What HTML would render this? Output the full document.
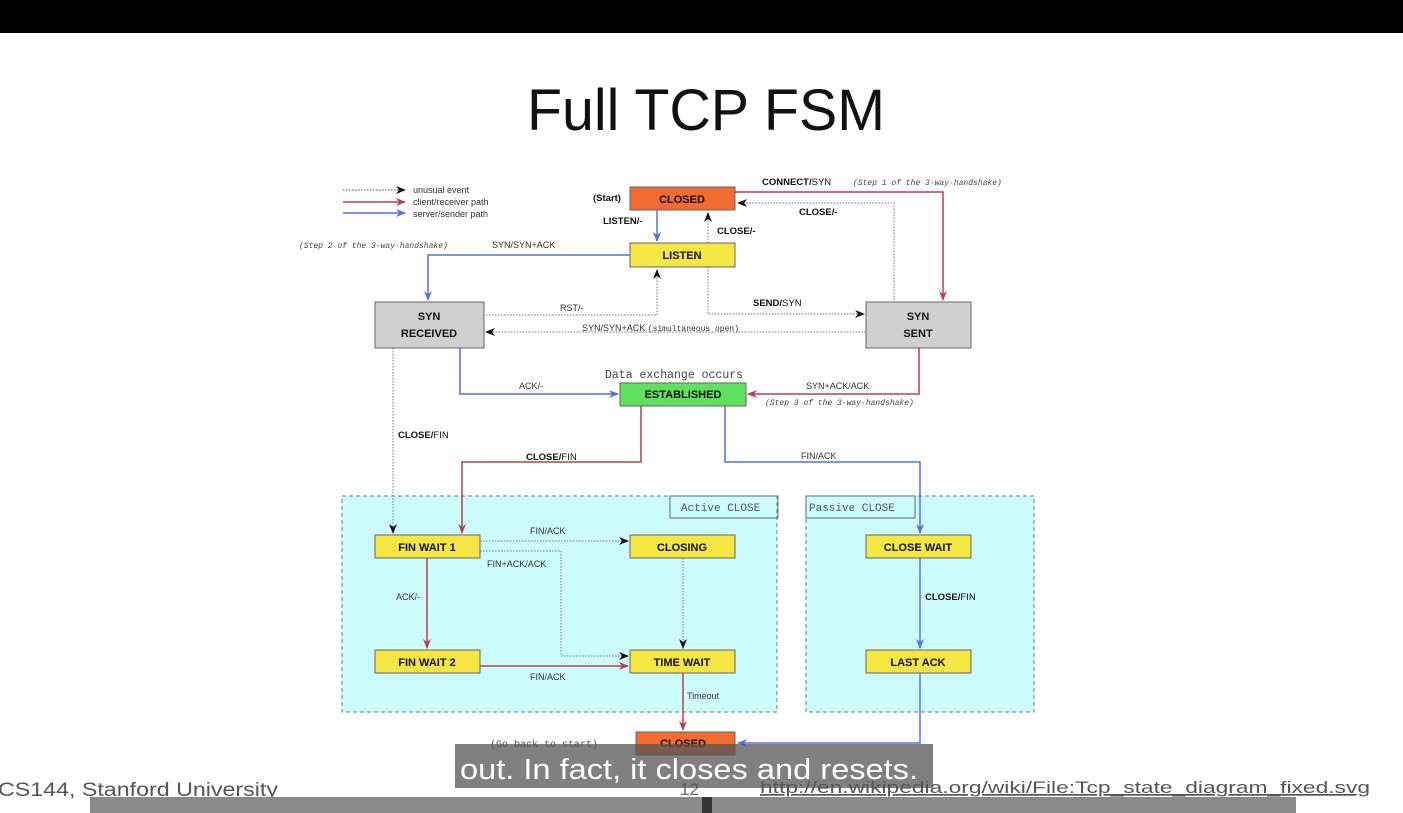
<!DOCTYPE html>
<html><head><meta charset="utf-8"><style>
html,body{margin:0;padding:0;background:#fff;}
svg{display:block}
.st{font-family:"Liberation Sans",sans-serif;font-weight:bold;font-size:11px;fill:#111;text-anchor:middle}
.lb{font-family:"Liberation Sans",sans-serif;font-size:9px;fill:#333}
.lbb{font-family:"Liberation Sans",sans-serif;font-size:9.5px;fill:#111;font-weight:bold}
.mono{font-family:"Liberation Mono",monospace;font-size:8px;fill:#444;font-style:italic}
</style></head><body>
<svg width="1403" height="813" viewBox="0 0 1403 813" xmlns="http://www.w3.org/2000/svg">
<defs>
<marker id="ak" markerWidth="10" markerHeight="10" refX="9" refY="5" orient="auto" markerUnits="userSpaceOnUse"><path d="M0,1 L10,5 L0,9 L3,5z" fill="#111"/></marker>
<marker id="ar" markerWidth="10" markerHeight="10" refX="9" refY="5" orient="auto" markerUnits="userSpaceOnUse"><path d="M0,1 L10,5 L0,9 L3,5z" fill="#b84050"/></marker>
<marker id="ab" markerWidth="10" markerHeight="10" refX="9" refY="5" orient="auto" markerUnits="userSpaceOnUse"><path d="M0,1 L10,5 L0,9 L3,5z" fill="#5570e0"/></marker>
</defs>
<rect x="0" y="0" width="1403" height="33" fill="#000"/>
<text x="527" y="130" font-family="Liberation Sans,sans-serif" font-size="58" fill="#111" textLength="358" lengthAdjust="spacingAndGlyphs">Full TCP FSM</text>

<!-- legend -->
<line x1="343" y1="190" x2="405" y2="190" stroke="#555" stroke-dasharray="1.5,1.5" marker-end="url(#ak)"/>
<line x1="343" y1="202" x2="405" y2="202" stroke="#b84050" stroke-width="1.5" marker-end="url(#ar)"/>
<line x1="343" y1="213" x2="405" y2="213" stroke="#5570e0" stroke-width="1.5" marker-end="url(#ab)"/>
<text class="lb" x="413" y="193" font-size="8">unusual event</text>
<text class="lb" x="413" y="205" font-size="8">client/receiver path</text>
<text class="lb" x="413" y="217" font-size="8">server/sender path</text>

<rect x="342" y="496" width="435" height="216" fill="#ccfcfc" stroke="#777" stroke-dasharray="4,3"/>
<rect x="806" y="496" width="228" height="216" fill="#ccfcfc" stroke="#777" stroke-dasharray="4,3"/>
<rect x="670" y="496" width="108" height="22" fill="none" stroke="#667"/>
<rect x="806" y="496" width="109" height="22" fill="none" stroke="#667"/>
<text x="681" y="511" font-family="Liberation Mono,monospace" font-size="11" fill="#555">Active CLOSE</text>
<text x="809" y="511" font-family="Liberation Mono,monospace" font-size="11" fill="#555">Passive CLOSE</text>

<g fill="none" stroke-width="1.5">
<polyline points="735,192 943,192 943,300" stroke="#b84050" marker-end="url(#ar)"/>
<polyline points="894,300 894,203 738,203" stroke="#777" stroke-width="1" stroke-dasharray="1.5,1.5" marker-end="url(#ak)"/>
<line x1="657" y1="210" x2="657" y2="241" stroke="#5570e0" marker-end="url(#ab)"/>
<line x1="708" y1="243" x2="708" y2="213" stroke="#777" stroke-width="1" stroke-dasharray="1.5,1.5" marker-end="url(#ak)"/>
<polyline points="630,255 428,255 428,300" stroke="#5570e0" marker-end="url(#ab)"/>
<polyline points="486,315 657,315 657,270" stroke="#777" stroke-width="1" stroke-dasharray="1.5,1.5" marker-end="url(#ak)"/>
<polyline points="708,267 708,314 864,314" stroke="#777" stroke-width="1" stroke-dasharray="1.5,1.5" marker-end="url(#ak)"/>
<line x1="866" y1="332" x2="486" y2="332" stroke="#777" stroke-width="1" stroke-dasharray="1.5,1.5" marker-end="url(#ak)"/>
<polyline points="460,348 460,394 618,394" stroke="#5570e0" marker-end="url(#ab)"/>
<polyline points="919,348 919,394 748,394" stroke="#b84050" marker-end="url(#ar)"/>
<polyline points="393,348 393,533" stroke="#777" stroke-width="1" stroke-dasharray="1.5,1.5" marker-end="url(#ak)"/>
<polyline points="641,406 641,462 462,462 462,533" stroke="#b84050" marker-end="url(#ar)"/>
<polyline points="725,406 725,462 920,462 920,533" stroke="#5570e0" marker-end="url(#ab)"/>
<line x1="480" y1="541" x2="628" y2="541" stroke="#777" stroke-width="1" stroke-dasharray="1.5,1.5" marker-end="url(#ak)"/>
<polyline points="480,551 561,551 561,656 628,656" stroke="#777" stroke-width="1" stroke-dasharray="1.5,1.5" marker-end="url(#ak)"/>
<line x1="683" y1="558" x2="683" y2="648" stroke="#777" stroke-width="1" stroke-dasharray="1.5,1.5" marker-end="url(#ak)"/>
<line x1="427" y1="558" x2="427" y2="648" stroke="#b84050" marker-end="url(#ar)"/>
<line x1="480" y1="666" x2="628" y2="666" stroke="#b84050" marker-end="url(#ar)"/>
<line x1="920" y1="558" x2="920" y2="648" stroke="#5570e0" marker-end="url(#ab)"/>
<line x1="683" y1="673" x2="683" y2="730" stroke="#b84050" marker-end="url(#ar)"/>
<polyline points="920,673 920,743 738,743" stroke="#5570e0" marker-end="url(#ab)"/>
</g>

<g stroke="#666" stroke-width="1">
<rect x="630" y="187" width="105" height="23" fill="#f26b30"/>
<rect x="630" y="243" width="105" height="24" fill="#f5e642"/>
<rect x="375" y="302" width="109" height="46" fill="#d0d0d0"/>
<rect x="866" y="302" width="105" height="46" fill="#d0d0d0"/>
<rect x="620" y="383" width="126" height="23" fill="#5fe05f"/>
<rect x="375" y="535" width="105" height="23" fill="#f5e642"/>
<rect x="630" y="535" width="105" height="23" fill="#f5e642"/>
<rect x="375" y="650" width="105" height="23" fill="#f5e642"/>
<rect x="630" y="650" width="105" height="23" fill="#f5e642"/>
<rect x="866" y="535" width="105" height="23" fill="#f5e642"/>
<rect x="866" y="650" width="105" height="23" fill="#f5e642"/>
<rect x="636" y="732" width="99" height="23" fill="#f26b30"/>
</g>
<text class="st" x="682" y="203">CLOSED</text>
<text class="st" x="682" y="259">LISTEN</text>
<text class="st" x="429" y="320">SYN</text>
<text class="st" x="429" y="337">RECEIVED</text>
<text class="st" x="918" y="320">SYN</text>
<text class="st" x="918" y="337">SENT</text>
<text class="st" x="683" y="398">ESTABLISHED</text>
<text class="st" x="427" y="551">FIN WAIT 1</text>
<text class="st" x="682" y="551">CLOSING</text>
<text class="st" x="427" y="666">FIN WAIT 2</text>
<text class="st" x="682" y="666">TIME WAIT</text>
<text class="st" x="918" y="551">CLOSE WAIT</text>
<text class="st" x="918" y="666">LAST ACK</text>
<text class="st" x="683" y="747">CLOSED</text>

<text class="lbb" x="593" y="201">(Start)</text>
<text class="lbb" x="603" y="224">LISTEN/-</text>
<text class="lbb" x="717" y="234">CLOSE/-</text>
<text class="lbb" x="799" y="215" font-size="8.5">CLOSE/-</text>
<text class="lbb" x="762" y="185">CONNECT/<tspan font-weight="normal">SYN</tspan></text>
<text class="mono" x="853" y="185">(Step 1 of the 3-way-handshake)</text>
<text class="mono" x="299" y="248">(Step 2 of the 3-way-handshake)</text>
<text class="lb" x="492" y="248" font-size="10">SYN/SYN+ACK</text>
<text class="lb" x="560" y="311">RST/-</text>
<text class="lbb" x="753" y="306">SEND/<tspan font-weight="normal">SYN</tspan></text>
<text class="lb" x="582" y="331">SYN/SYN+ACK <tspan font-family="Liberation Mono,monospace" font-size="8">(simultaneous open)</tspan></text>
<text x="605" y="378" font-family="Liberation Mono,monospace" font-size="11.5" fill="#444">Data exchange occurs</text>
<text class="lb" x="519" y="389" font-size="8.5">ACK/-</text>
<text class="lb" x="806" y="389" font-size="8.5">SYN+ACK/ACK</text>
<text class="mono" x="765" y="405">(Step 3 of the 3-way-handshake)</text>
<text class="lbb" x="398" y="438">CLOSE/<tspan font-weight="normal">FIN</tspan></text>
<text class="lbb" x="526" y="460">CLOSE/<tspan font-weight="normal">FIN</tspan></text>
<text class="lb" x="801" y="459" font-size="8.5">FIN/ACK</text>
<text class="lb" x="530" y="534" font-size="8">FIN/ACK</text>
<text class="lb" x="487" y="567" font-size="8">FIN+ACK/ACK</text>
<text class="lb" x="396" y="600" font-size="8">ACK/-</text>
<text class="lb" x="530" y="680" font-size="8">FIN/ACK</text>
<text class="lb" x="687" y="699" font-size="8.5">Timeout</text>
<text class="lbb" x="925" y="600">CLOSE/<tspan font-weight="normal">FIN</tspan></text>
<text x="490" y="747" font-family="Liberation Mono,monospace" font-size="10" fill="#555">(Go back to start)</text>

<text x="-2" y="796" font-family="Liberation Sans,sans-serif" font-size="19" fill="#555" textLength="280" lengthAdjust="spacingAndGlyphs">CS144, Stanford University</text>
<text x="680" y="795" font-family="Liberation Sans,sans-serif" font-size="17" fill="#666">12</text>
<text x="760" y="793" font-family="Liberation Sans,sans-serif" font-size="17" fill="#555" text-decoration="underline" textLength="610" lengthAdjust="spacingAndGlyphs">http://en.wikipedia.org/wiki/File:Tcp_state_diagram_fixed.svg</text>
<rect x="455" y="744" width="478" height="44" fill="#555" opacity="0.75"/>
<text x="460" y="779" font-family="Liberation Sans,sans-serif" font-size="29" fill="#fff" textLength="458" lengthAdjust="spacingAndGlyphs">out. In fact, it closes and resets.</text>
<rect x="90" y="797" width="612" height="16" fill="#8a8a8a"/>
<rect x="702" y="797" width="10" height="16" fill="#333"/>
<rect x="712" y="797" width="584" height="16" fill="#8a8a8a"/>
</svg>
</body></html>
